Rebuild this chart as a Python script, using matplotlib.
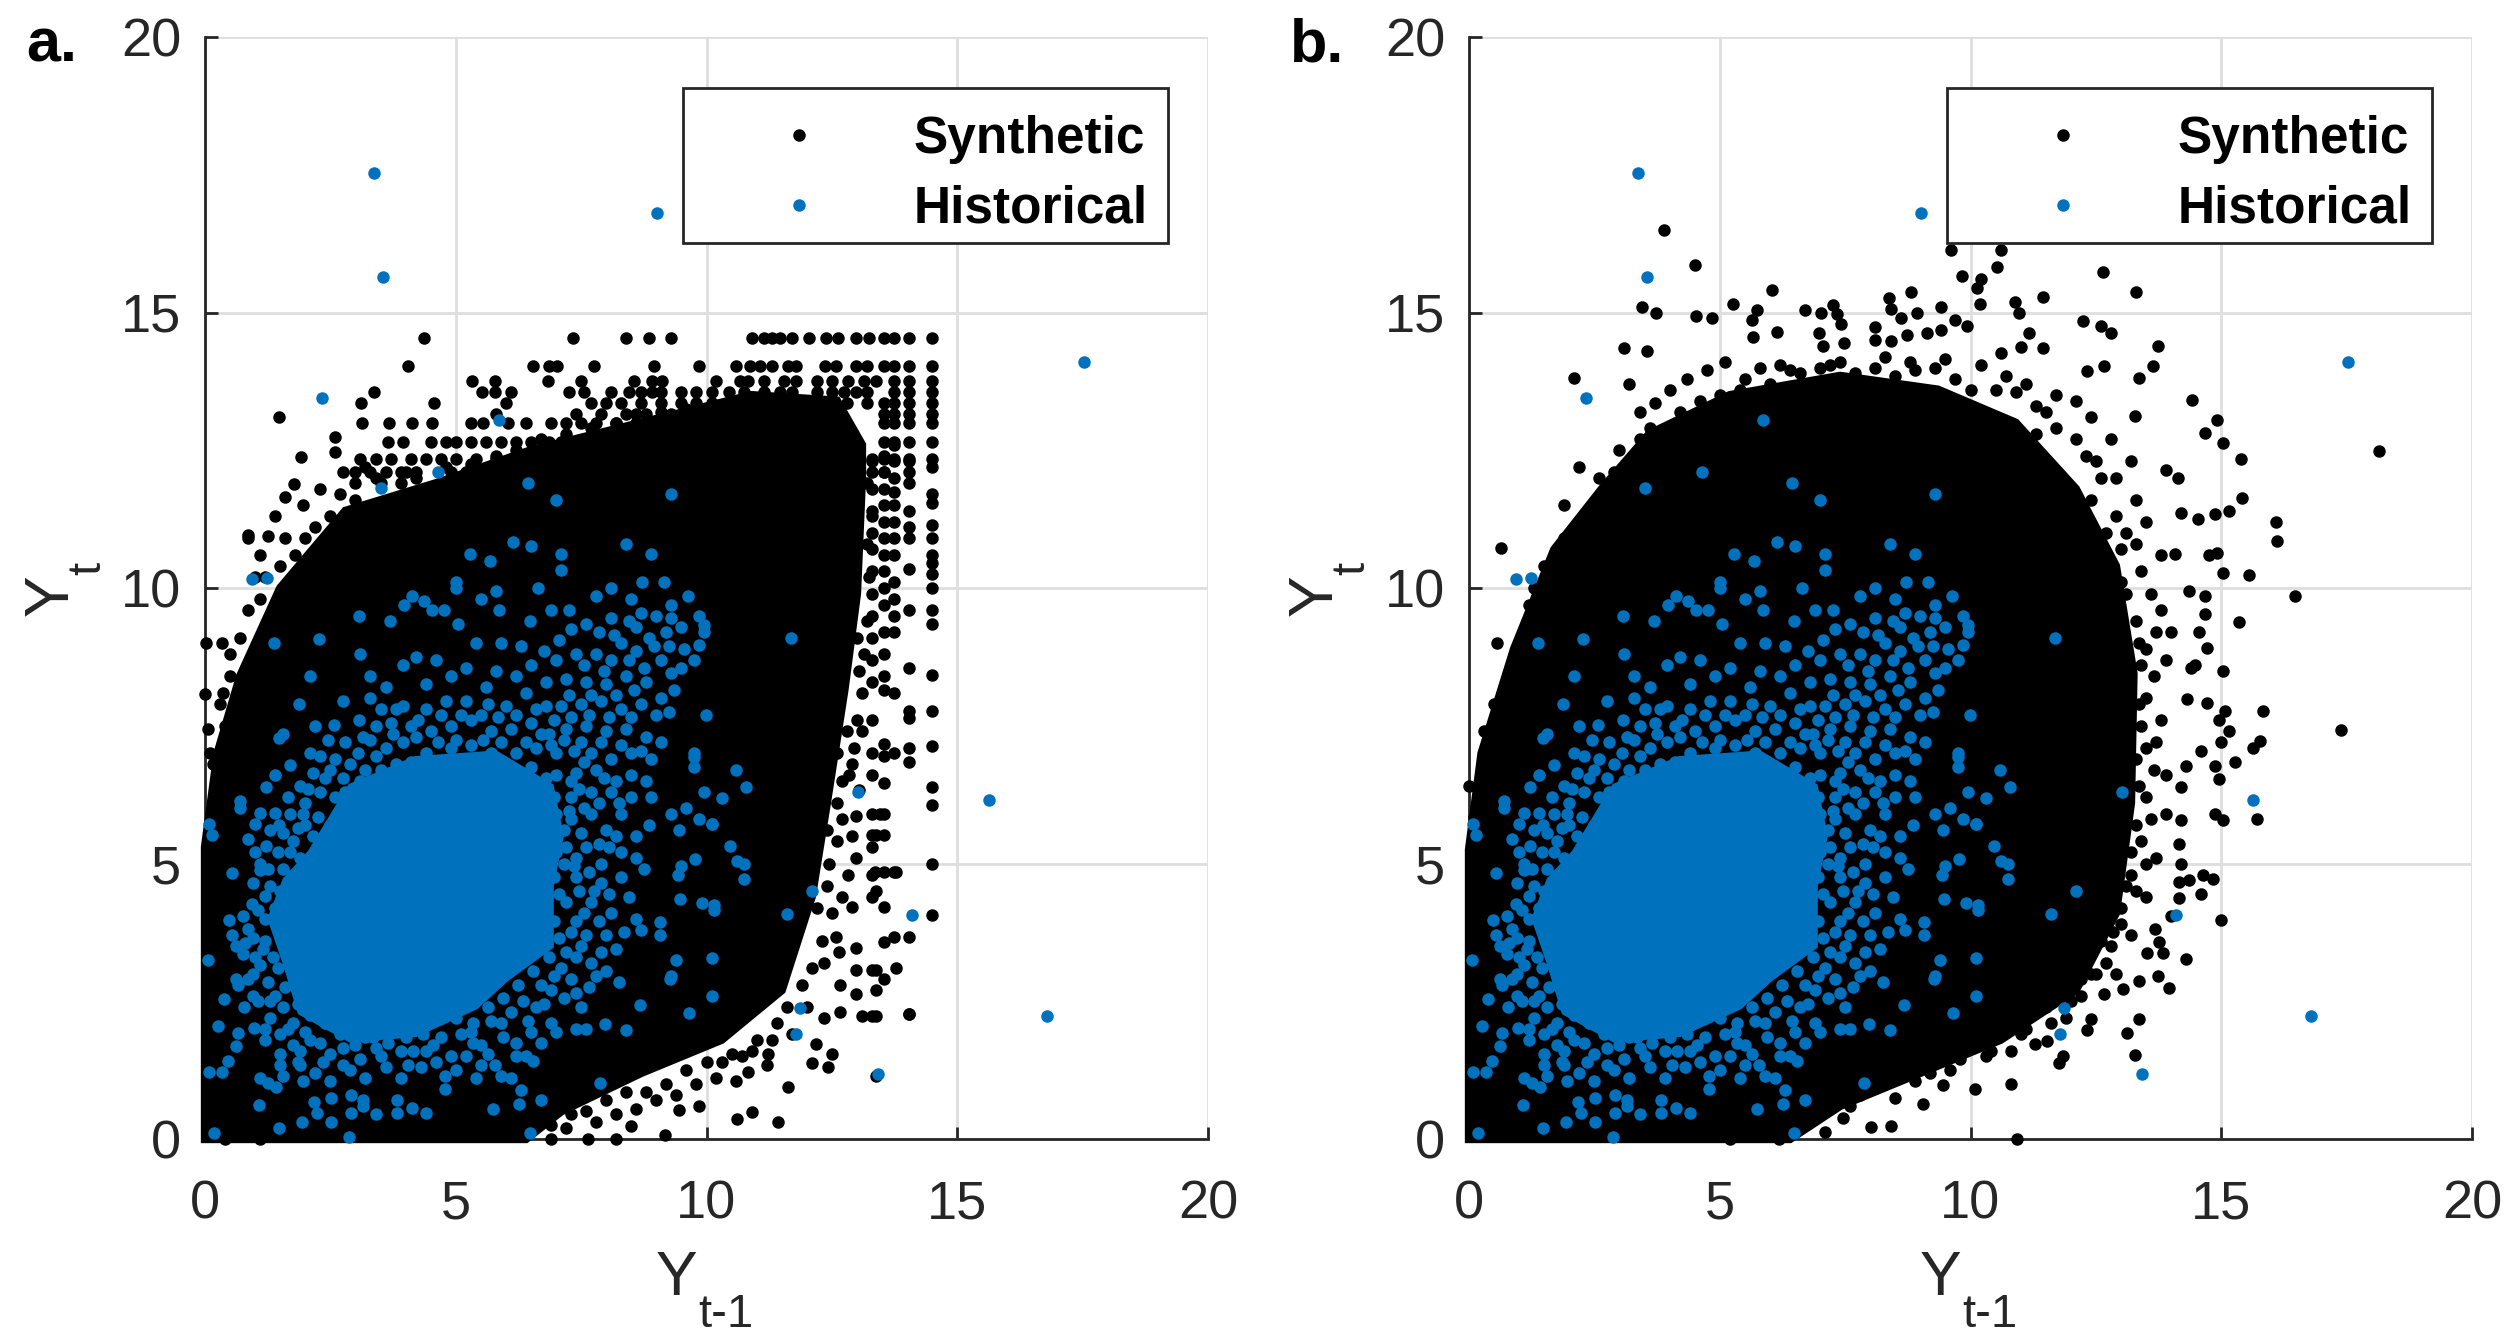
import numpy as np
import matplotlib
matplotlib.use("Agg")
import matplotlib.pyplot as plt
from matplotlib.patches import Rectangle

plt.rcParams["font.family"] = ["Liberation Sans", "DejaVu Sans"]

W, H = 2510, 1342
DARK = "#262626"
BLUE = "#0072BD"

# solid parts of the clouds, outlines
core_a = [(0, 0), (0, 5.3), (0.25, 7.0), (0.7, 8.4), (1.5, 10.0), (2.8, 11.4), (4.6, 11.9), (6.5, 12.5),
          (8.7, 13.0), (10.9, 13.5), (12.6, 13.4), (13.1, 12.6), (13.1, 12.0), (13.0, 9.9), (12.75, 8.15), (12.4, 6.1),
          (12.1, 4.4), (11.5, 2.7), (10.3, 1.8), (8.7, 1.2), (7.1, 0.5), (6.4, 0)]
core_b = [(0, 0), (0, 5.25), (0.25, 7.0), (0.9, 8.9), (1.7, 10.7), (2.65, 11.8), (3.6, 12.8), (5.2, 13.5),
          (7.4, 13.85), (9.35, 13.6), (10.9, 13.0), (12.1, 11.8), (12.9, 10.4), (13.25, 8.45), (13.2, 6.1),
          (12.9, 4.1), (12.1, 2.7), (10.6, 1.8), (9.0, 1.2), (7.4, 0.6), (6.4, 0)]
core_hist = [(2.1, 5.2), (2.9, 6.4), (4.2, 6.9), (5.8, 7.0), (6.9, 6.4), (7.1, 5.5), (6.9, 4.6), (6.9, 3.5),
             (6.0, 2.9), (5.4, 2.4), (4.2, 1.9), (2.9, 1.8), (1.9, 2.3), (1.6, 3.2), (1.3, 4.0), (1.6, 4.7)]

# panel a: the synthetic values sit on rows and columns near the top right
rows_y = [14.53, 14.03, 13.76, 13.55, 13.35, 13.15, 13.0, 12.65, 12.35, 12.1]
rows_x = [
    [4.37, 7.33, 8.4, 8.86, 9.3, 10.9, 11.14, 11.3, 11.46, 11.7, 12.05, 12.39, 12.63, 12.98, 13.25, 13.54, 13.74, 14.03, 14.5],
    [4.04, 6.54, 6.86, 7.02, 7.76, 8.95, 9.86, 10.58, 10.87, 11.06, 11.3, 11.62, 11.78, 12.37, 12.58, 12.98, 13.2, 13.54, 13.74, 14.03, 14.5],
    [5.32, 5.79, 6.83, 7.5, 8.56, 8.91, 9.11, 10.18, 10.66, 10.82, 11.14, 11.54, 11.78, 12.21, 12.5, 12.82, 13.14, 13.38, 13.74, 14.03, 14.5],
    [3.37, 5.52, 5.79, 6.1, 7.25, 7.55, 8.1, 8.45, 8.7, 8.91, 9.1, 9.5, 9.8, 10.1, 10.45, 10.75, 11.14, 11.46, 11.7, 12.2, 12.5, 12.74, 12.98, 13.2, 13.74, 14.03, 14.5],
    [3.11, 4.56, 6.0, 7.7, 8.0, 8.3, 8.7, 9.1, 9.5, 9.8, 10.1, 10.4, 10.8, 11.1, 11.3, 11.7, 12.1, 12.5, 12.8, 13.2, 13.54, 13.74, 14.03, 14.5],
    [5.8, 7.4, 7.9, 8.4, 8.8, 9.3, 9.7, 10.0, 10.3, 10.6, 11.0, 13.54, 13.74, 14.03, 14.5],
    [3.13, 3.67, 4.12, 4.52, 5.3, 5.55, 6.05, 6.4, 6.9, 7.2, 7.5, 7.8, 8.2, 8.6, 9.0, 9.4, 9.8, 13.54, 13.74, 14.03, 14.5],
    [3.65, 3.95, 4.5, 4.8, 5.0, 5.3, 5.6, 5.9, 6.2, 6.5, 6.85, 7.1, 7.3, 7.6, 7.8, 8.3, 8.7, 9.2, 13.54, 13.74, 14.03, 14.5],
    [3.1, 3.4, 3.7, 4.1, 4.4, 4.7, 5.0, 5.4, 5.8, 6.1, 6.4, 6.7, 7.0, 13.3, 13.54, 13.74, 14.03],
    [2.75, 3.0, 3.3, 3.6, 3.9, 4.2, 4.9, 5.2, 5.6, 6.0, 13.3, 13.54],
]
cols_x = [14.5, 14.03, 13.74, 13.54, 13.3]
cols_y = [
    [12.35, 12.2, 11.7, 11.55, 11.15, 10.9, 10.6, 10.45, 10.25, 10.0, 9.6, 9.35, 8.43, 7.76, 7.13, 6.38, 6.06, 5.0, 4.07],
    [12.3, 12.1, 11.9, 11.4, 11.1, 10.9, 10.35, 9.6, 8.55, 7.76, 7.64, 7.1, 6.85, 3.66, 2.26],
    [12.6, 12.3, 12.0, 11.75, 11.5, 11.2, 10.9, 10.6, 10.1, 9.8, 9.5, 9.2, 8.1, 7.0, 4.84, 3.66],
    [12.4, 12.1, 11.8, 11.5, 11.2, 10.9, 10.6, 10.3, 10.0, 9.7, 9.2, 8.8, 8.4, 8.15, 7.17, 6.95, 6.46, 5.9, 5.51, 4.84, 4.21, 3.58, 2.91],
    [12.3, 11.8, 11.4, 11.0, 10.7, 10.3, 9.9, 9.5, 9.1, 8.7, 8.3, 7.6, 7.0, 6.6, 5.9, 5.51, 5.3, 4.8, 4.4, 3.07, 2.23],
]
syn_a_extra = [
    (0.02, 9.0), (0.34, 9.0), (0.5, 8.8), (0.85, 10.97), (1.48, 13.1), (1.92, 12.37), (1.77, 11.88), (1.6, 11.65),
    (1.4, 11.3), (1.95, 11.5), (2.3, 11.8), (2.6, 12.74), (2.6, 12.47), (1.1, 10.6), (1.0, 10.2), (0.85, 9.6),
    (0.85, 10.9), (1.25, 10.95), (1.6, 10.9), (0.7, 9.1), (1.1, 9.8), (2.0, 10.9), (2.5, 11.3), (3.0, 11.6),
    (3.2, 12.2), (3.5, 11.9), (3.9, 11.9), (4.2, 12.0), (4.6, 11.8), (5.1, 12.0), (5.5, 11.9), (6.0, 12.2),
    (6.4, 12.1), (7.0, 12.4), (0.0, 8.07), (0.05, 7.44), (0.1, 7.0), (0.3, 7.9), (0.4, 7.5), (0.15, 6.8),
    (13.0, 9.1), (13.05, 8.5), (13.1, 8.1), (13.0, 7.6), (12.8, 7.4), (12.6, 7.0), (12.9, 6.8), (12.7, 6.5),
    (13.05, 6.34), (13.45, 5.9), (13.38, 5.51), (12.98, 5.87), (12.9, 5.5), (12.98, 5.1), (13.78, 4.84),
    (13.35, 4.84), (12.82, 4.8), (12.4, 4.6), (13.38, 4.5), (12.9, 4.21), (12.7, 4.4), (12.58, 3.66), (12.98, 3.46),
    (12.65, 3.4), (12.98, 3.07), (13.78, 3.11), (13.38, 3.07), (12.66, 2.8), (12.98, 2.64), (13.38, 2.7), (14.03, 2.26),
    (13.38, 2.23), (13.1, 2.23), (12.66, 2.3), (12.34, 2.2), (12.18, 1.73), (12.5, 1.54), (12.1, 1.38), (12.42, 1.31),
    (11.22, 1.54), (13.38, 1.14), (11.62, 0.94), (11.2, 1.35), (10.82, 1.22), (10.58, 1.06), (10.18, 1.1), (9.86, 0.59),
    (10.9, 0.49), (10.61, 0.37), (11.43, 0.31), (9.18, 0.08), (8.19, 0.0), (7.63, 0.0), (8.5, 0.24), (9.46, 0.52),
    (6.9, 0.0), (7.2, 0.2), (7.8, 0.3), (8.2, 0.45), (8.6, 0.55), (9.0, 0.7), (9.4, 0.8), (9.8, 1.0), (10.3, 1.4),
    (10.7, 1.5), (11.0, 1.8), (11.4, 2.1), (11.6, 2.4), (11.9, 2.8), (12.1, 3.1), (12.3, 3.6), (12.2, 4.2), (12.45, 5.0),
    (12.4, 5.6), (12.6, 6.1), (0.1, 0.15), (0.4, 0.0), (0.7, 0.05), (1.1, 0.0),
    (12.6, 5.4), (12.7, 5.8), (12.85, 6.6), (12.95, 7.1), (13.1, 7.4), (13.15, 8.8), (13.2, 9.4), (13.25, 10.2), (13.2, 10.8),
    (13.3, 11.3), (13.2, 11.9), (12.5, 4.1), (12.35, 3.2), (12.0, 2.4), (11.7, 1.9), (11.3, 1.8), (10.9, 1.6), (10.5, 1.55),
    (10.0, 1.4), (9.6, 1.25), (9.2, 1.0), (8.8, 0.85), (8.4, 0.85), (8.0, 0.7), (7.6, 0.5), (7.3, 0.45), (6.9, 0.25),
    (0.9, 8.7), (1.2, 10.2), (1.5, 10.4), (1.8, 10.6), (2.2, 11.1), (2.7, 11.7), (3.0, 11.9), (3.4, 12.0), (4.0, 12.1),
    (4.8, 12.2), (5.3, 12.25), (5.8, 12.4), (6.2, 12.5), (6.7, 12.7), (7.2, 12.8), (7.7, 12.9), (8.2, 13.0), (8.6, 13.15),
    (9.1, 13.2), (9.6, 13.25), (0.35, 8.1), (0.5, 8.4),
]

# panel b: loose points around the cloud
syn_b_extra = [
    (3.88, 16.5), (4.5, 15.86), (3.45, 15.1), (3.73, 15.0), (4.53, 14.94), (4.84, 14.9), (5.27, 15.16), (5.75, 15.04),
    (6.05, 15.4), (5.65, 14.86), (5.67, 14.55), (6.15, 14.65), (6.7, 15.04), (7.02, 15.0), (7.25, 15.13), (7.33, 14.98),
    (7.42, 14.8), (6.98, 14.62), (7.06, 14.39), (7.47, 14.44), (8.09, 14.74), (8.38, 15.27), (8.81, 15.37), (8.41, 15.06),
    (8.94, 15.0), (8.62, 14.9), (9.42, 15.1), (9.69, 14.86), (9.93, 14.76), (9.42, 14.68), (9.13, 14.62), (8.73, 14.6),
    (8.41, 14.48), (8.09, 14.5), (9.61, 16.14), (10.61, 16.14), (10.53, 15.82), (9.83, 15.67), (10.2, 15.6), (10.12, 15.45),
    (10.18, 15.16), (10.89, 15.19), (10.97, 15.0), (11.44, 15.29), (12.64, 15.74), (13.31, 15.37), (12.24, 14.84),
    (12.61, 14.76), (12.8, 14.62), (11.17, 14.62), (11.0, 14.37), (11.44, 14.35), (10.6, 14.27), (13.73, 14.4), (13.63, 14.03),
    (13.36, 13.82), (12.67, 14.03), (12.32, 13.93), (14.41, 13.41), (13.28, 13.12), (14.91, 13.04), (14.68, 12.82),
    (15.04, 12.64), (15.39, 12.35), (18.15, 12.49), (13.89, 12.15), (14.13, 12.0), (15.42, 11.64), (15.16, 11.4),
    (14.88, 11.35), (14.53, 11.26), (14.2, 11.37), (16.1, 11.2), (16.12, 10.86), (14.92, 10.64), (14.75, 10.6), (14.07, 10.62),
    (15.04, 10.27), (15.56, 10.23), (16.47, 9.85), (14.35, 9.95), (14.67, 9.85), (14.68, 9.52), (15.36, 9.39), (14.56, 9.2),
    (14.72, 8.91), (14.48, 8.6), (15.04, 8.5), (14.4, 8.55), (15.83, 7.77), (17.38, 7.42), (14.32, 7.99), (14.72, 7.91),
    (15.07, 7.76), (14.95, 7.6), (15.16, 7.4), (15.78, 7.23), (15.64, 7.09), (15.0, 7.2), (15.28, 6.85), (14.6, 7.05),
    (14.88, 6.77), (14.96, 6.54), (14.3, 6.77), (14.2, 6.38), (14.88, 5.89), (15.04, 5.79), (15.72, 5.81), (14.2, 5.79),
    (14.16, 5.35), (14.2, 5.0), (14.63, 4.8), (14.83, 4.72), (14.6, 4.45), (14.35, 4.7), (14.16, 4.66), (14.16, 4.38),
    (14.99, 3.98), (14.0, 4.05), (13.68, 3.82), (13.76, 3.58), (13.84, 3.38), (14.3, 3.27), (13.52, 3.38), (13.73, 2.95),
    (13.36, 2.87), (13.95, 2.74), (13.04, 2.72), (12.67, 2.64), (13.36, 2.18), (13.12, 1.93), (12.4, 2.17), (12.32, 1.97),
    (13.28, 1.52), (11.76, 1.38), (11.84, 1.5), (11.52, 1.77), (11.28, 1.73), (10.81, 1.0), (10.09, 0.91), (9.45, 0.98),
    (9.05, 0.63), (8.41, 0.24), (8.01, 0.21), (7.45, 0.39), (7.1, 0.12), (10.92, 0.0), (6.18, 0.0), (5.2, 0.0),
    (2.09, 13.82), (3.1, 14.35), (3.55, 14.3), (3.2, 13.7), (3.4, 13.2), (3.7, 13.35), (4.0, 13.6), (4.35, 13.8),
    (4.75, 13.95), (5.1, 14.1), (5.0, 13.5), (5.5, 13.8), (5.8, 14.0), (6.2, 14.05), (6.6, 13.9), (7.0, 14.0), (7.4, 14.1),
    (7.7, 13.9), (8.1, 14.0), (8.5, 13.85), (8.9, 13.95), (9.3, 14.0), (9.7, 13.8), (10.0, 13.6), (10.5, 13.6), (10.9, 13.55),
    (11.3, 13.3), (11.7, 13.5), (12.1, 13.4), (12.4, 13.1), (12.8, 12.7), (13.2, 12.3), (12.9, 12.0), (12.5, 12.3),
    (12.1, 12.7), (11.7, 12.9), (11.3, 12.8), (10.8, 13.0), (13.3, 11.6), (13.5, 11.2), (13.1, 11.0), (13.8, 10.6),
    (13.4, 10.3), (13.0, 10.1), (12.9, 9.7), (13.3, 9.4), (13.8, 9.6), (13.5, 8.9), (13.9, 8.7), (14.0, 9.2),
    (13.5, 8.0), (13.8, 7.6), (13.5, 7.1), (13.9, 6.6), (13.5, 6.2), (13.9, 5.9), (13.4, 5.4), (13.7, 5.1), (13.2, 4.8),
    (13.5, 4.4), (13.0, 4.2), (13.2, 3.7), (12.8, 3.5), (12.9, 3.0), (12.4, 3.0), (12.2, 2.6), (11.9, 2.2), (11.5, 2.4),
    (11.1, 2.0), (10.8, 1.6), (10.3, 1.5), (9.6, 1.25), (8.9, 1.05), (8.5, 0.75), (8.0, 0.9), (7.6, 0.6), (7.0, 0.5),
    (6.5, 0.3), (2.4, 11.4), (1.9, 10.9), (1.9, 11.5), (2.2, 12.2), (2.6, 12.0), (3.0, 12.5), (3.4, 12.7), (1.5, 10.4),
    (1.3, 10.0), (1.2, 9.7), (0.63, 10.72), (0.55, 9.0), (0.95, 8.9), (0.75, 8.3), (1.1, 9.2), (0.5, 7.9), (0.3, 7.4),
    (0.4, 6.9), (0.25, 6.3), (0.0, 6.4), (0.1, 5.85),
    (4.2, 13.2), (4.6, 13.4), (5.4, 13.6), (6.0, 13.7), (6.4, 13.95), (7.2, 14.05), (8.3, 14.2), (8.8, 14.1), (9.5, 14.15),
    (10.2, 14.05), (10.7, 13.85), (11.1, 13.7), (11.5, 13.2), (12.3, 12.4), (12.6, 12.0), (12.9, 11.3), (13.3, 10.8),
    (13.6, 9.9), (13.7, 9.2), (13.65, 8.4), (13.7, 7.2), (13.65, 6.7), (13.6, 5.8), (13.5, 5.0), (13.3, 4.5), (13.0, 3.9),
    (12.7, 3.2), (12.2, 2.9), (11.6, 2.1), (11.0, 1.9), (10.4, 1.6), (9.8, 1.45), (9.2, 1.2), (8.3, 1.0), (7.8, 0.8), (7.3, 0.7),
    (6.8, 0.4), (1.4, 9.9), (1.6, 10.3), (1.9, 10.6), (2.2, 11.0), (2.6, 11.5), (2.9, 12.1), (3.2, 12.3), (3.6, 12.9),
    (13.35, 9.0), (13.4, 8.6), (13.35, 7.9), (13.4, 7.5), (13.3, 6.9), (13.35, 6.4), (13.3, 5.7), (13.2, 5.2), (13.1, 4.6),
    (12.85, 3.75), (12.6, 3.6), (12.5, 3.0), (12.0, 2.5), (13.1, 9.9), (13.0, 10.7), (12.7, 11.0), (12.4, 11.6),
]

# historical points, the same in both panels
hist_pts = [
    (3.37, 17.54), (9.02, 16.8), (3.54, 15.64), (17.53, 14.1), (2.33, 13.45), (5.87, 13.05), (4.64, 12.1), (3.5, 11.82),
    (6.45, 11.9), (7.0, 11.6), (9.29, 11.7), (0.93, 10.17), (1.23, 10.19), (6.15, 10.84), (6.5, 10.76), (5.28, 10.62),
    (5.68, 10.49), (7.09, 10.62), (8.4, 10.8), (8.9, 10.62), (7.09, 10.32), (5.0, 10.1), (5.0, 10.0), (6.64, 10.0),
    (8.72, 10.1), (9.15, 10.1), (5.8, 9.95), (8.5, 9.8), (8.1, 10.0), (7.8, 9.85), (9.63, 9.85), (9.3, 9.7), (4.12, 9.85),
    (3.96, 9.7), (4.36, 9.77), (5.5, 9.8), (4.52, 9.6), (4.76, 9.6), (3.08, 9.5), (3.69, 9.4), (5.05, 9.35), (5.87, 9.6),
    (6.9, 9.6), (7.26, 9.6), (6.48, 9.4), (2.28, 9.07), (1.37, 9.0), (11.68, 9.1), (9.86, 9.5), (9.95, 9.32), (9.95, 9.2),
    (9.86, 8.97), (8.7, 9.55), (9.0, 9.5), (9.3, 9.45), (9.5, 9.3), (9.2, 9.2), (8.85, 9.1), (8.45, 9.4), (8.1, 9.45),
    (7.85, 9.2), (7.6, 9.35), (7.3, 9.25), (7.05, 9.05), (8.3, 9.0), (8.6, 8.85), (9.55, 8.9), (9.75, 8.7), (9.1, 8.7),
    (9.3, 8.45), (8.1, 8.7), (7.8, 8.8), (7.4, 8.8), (7.0, 8.7), (6.75, 8.85), (6.3, 8.95), (5.9, 9.0), (5.4, 9.0),
    (5.2, 8.55), (4.9, 8.4), (4.6, 8.7), (4.2, 8.75), (3.95, 8.6), (3.1, 8.8), (3.3, 8.4), (3.6, 8.2), (2.1, 8.4),
    (4.4, 8.25), (5.6, 8.2), (5.8, 8.5), (6.2, 8.4), (6.5, 8.6), (6.8, 8.3), (7.2, 8.35), (7.6, 8.3), (8.0, 8.25), (8.4, 8.4),
    (8.8, 8.3), (9.1, 8.0), (9.0, 7.7), (8.7, 7.9), (8.3, 7.8), (7.9, 7.95), (7.5, 7.9), (7.1, 7.85), (6.8, 7.85), (6.4, 8.1),
    (6.0, 7.85), (5.65, 7.9), (5.2, 7.95), (4.8, 7.95), (4.4, 7.8), (3.95, 7.85), (3.3, 8.0), (1.88, 7.89), (2.2, 7.5),
    (2.76, 7.95), (1.48, 7.28), (1.55, 7.35), (2.57, 7.52), (3.08, 7.6), (3.4, 7.5), (3.7, 7.55), (4.1, 7.5), (4.5, 7.4),
    (4.9, 7.5), (5.3, 7.6), (5.7, 7.4), (6.1, 7.45), (6.5, 7.55), (6.85, 7.35), (7.2, 7.45), (7.6, 7.5), (8.0, 7.4),
    (8.4, 7.45), (8.8, 7.3), (9.1, 7.2), (9.99, 7.7), (3.6, 7.1), (3.95, 7.2), (4.4, 7.0), (4.9, 7.1), (5.3, 7.15), (5.7, 7.0),
    (6.2, 7.0), (6.6, 7.1), (7.0, 7.0), (7.35, 7.05), (7.7, 7.0), (8.1, 6.9), (8.5, 7.0), (8.9, 6.9), (9.75, 6.93), (9.75, 6.75),
    (2.3, 6.95), (2.5, 6.7), (2.9, 6.8), (3.2, 6.7), (3.5, 6.7), (7.0, 6.6), (7.4, 6.65), (7.8, 6.7), (8.2, 6.5), (8.5, 6.6),
    (8.8, 6.5), (8.9, 6.2), (8.5, 6.2), (8.1, 6.3), (7.7, 6.3), (7.3, 6.2), (1.21, 6.39), (1.4, 6.61), (1.69, 6.79),
    (1.9, 6.4), (2.0, 6.1), (2.3, 6.3), (2.6, 6.2), (2.25, 5.85), (2.0, 5.7), (1.7, 5.9), (1.4, 5.91), (1.09, 5.91), (1.0, 5.71),
    (1.48, 5.7), (1.75, 5.4), (0.69, 6.14), (0.69, 6.0), (0.08, 5.71), (0.13, 5.51), (7.3, 5.8), (7.7, 5.9), (8.0, 5.6),
    (8.3, 5.9), (8.6, 5.5), (8.85, 5.7), (9.3, 5.9), (9.6, 6.0), (9.85, 5.8), (10.1, 5.71), (9.45, 5.6), (10.3, 6.18), (9.95, 6.3),
    (10.79, 6.39), (10.58, 6.69), (9.75, 7.0), (7.2, 5.3), (7.6, 5.3), (7.9, 5.0), (8.3, 5.2), (8.6, 5.1), (8.75, 4.9), (8.3, 4.75),
    (7.9, 4.65), (7.4, 4.75), (7.2, 4.3), (7.7, 4.3), (8.1, 4.1), (7.4, 3.95), (7.6, 3.7), (8.0, 3.7), (8.35, 3.75), (8.7, 3.8),
    (8.6, 4.0), (7.9, 3.4), (7.7, 3.2), (7.5, 3.5), (7.2, 3.4), (7.3, 2.9), (7.65, 2.75), (7.8, 2.95), (7.15, 2.55), (7.5, 2.4),
    (6.9, 2.7), (6.6, 2.4), (6.9, 2.1), (6.5, 1.95), (6.2, 1.75), (5.9, 2.1), (5.5, 1.7), (5.1, 1.9), (4.9, 1.5), (4.4, 1.6),
    (3.9, 1.6), (3.4, 1.65), (3.0, 1.7), (2.5, 1.55), (2.1, 1.8), (1.85, 1.4), (1.5, 1.55), (1.2, 1.8), (1.75, 2.1), (1.55, 2.4),
    (1.3, 2.2), (1.6, 2.75), (1.35, 3.3), (1.6, 3.6), (1.2, 3.6), (1.0, 3.3), (0.85, 3.82), (0.53, 3.7), (0.48, 3.98), (0.61, 3.5),
    (0.75, 3.35), (1.09, 3.15), (1.2, 4.0), (1.2, 4.41), (0.94, 4.27), (1.5, 4.5), (1.55, 4.9), (1.25, 4.9), (1.09, 4.88),
    (1.21, 5.31), (1.7, 5.2), (0.53, 4.82), (0.05, 3.24), (0.61, 2.91), (0.65, 2.8), (0.37, 2.54), (0.77, 2.4), (0.26, 2.05),
    (0.65, 1.93), (0.61, 1.69), (0.45, 1.42), (0.08, 1.22), (0.34, 1.22), (0.97, 2.01), (1.2, 2.0), (1.09, 1.1), (1.25, 1.02),
    (1.41, 0.94), (1.49, 1.34), (1.89, 1.34), (2.2, 1.2), (2.5, 1.05), (2.9, 1.25), (3.2, 1.1), (3.6, 1.3), (3.9, 1.1), (4.3, 1.3),
    (4.79, 0.91), (4.79, 1.14), (5.9, 1.14), (6.1, 1.1), (5.79, 1.34), (5.2, 1.5), (5.5, 1.35), (6.2, 1.5), (6.54, 1.42),
    (0.18, 0.1), (2.87, 0.04), (6.48, 0.1), (1.48, 0.2), (1.93, 0.31), (2.52, 0.31), (2.23, 0.47), (2.17, 0.67), (2.92, 0.47),
    (3.4, 0.45), (3.83, 0.47), (3.83, 0.71), (4.12, 0.57), (4.4, 0.47), (5.75, 0.54), (6.27, 0.63), (6.69, 0.71), (6.3, 0.89),
    (7.87, 1.02), (1.08, 0.61), (2.52, 0.75), (2.92, 0.79), (3.16, 0.71), (3.16, 0.59),
    (13.03, 6.3), (15.64, 6.16), (14.09, 4.07), (16.78, 2.23), (11.86, 2.37), (11.78, 1.9), (13.42, 1.18), (12.1, 4.5), (11.6, 4.09),
    (10.74, 5.0), (10.74, 4.72), (10.6, 5.05), (10.47, 5.31), (10.1, 5.71), (9.78, 5.09), (9.5, 4.95), (9.43, 4.8), (9.47, 4.35),
    (9.91, 4.29), (10.15, 4.15), (10.15, 4.25), (9.08, 3.94), (9.08, 3.7), (9.39, 3.25), (10.1, 3.29), (9.3, 2.95), (9.27, 2.9),
    (10.1, 2.6), (9.66, 2.28), (8.67, 2.43), (8.4, 1.98), (7.98, 2.09), (7.6, 1.99), (7.39, 1.99),
]

# the crowded ring right around the solid blue part
hist_ring = [
    (2.8, 6.3), (3.1, 6.5), (3.4, 6.95), (3.8, 6.8), (4.1, 6.85), (4.5, 6.7), (4.8, 6.85), (5.1, 6.75), (5.5, 6.9), (5.9, 6.85),
    (6.2, 6.7), (6.5, 6.75), (6.8, 6.55), (6.4, 7.2), (5.0, 7.25), (4.2, 7.3), (5.9, 7.2), (6.9, 7.15), (3.3, 7.25), (2.8, 7.2),
    (2.5, 5.7), (2.8, 5.9), (2.15, 5.5), (1.9, 5.1), (2.2, 5.2), (1.75, 4.8), (1.4, 4.2), (1.5, 3.75), (1.75, 3.4), (1.45, 3.1),
    (1.8, 2.95), (2.0, 2.7), (1.85, 2.45), (2.1, 2.25), (2.4, 2.1), (2.7, 1.9), (3.0, 1.95), (3.35, 1.85), (3.7, 1.95), (4.0, 1.85),
    (4.35, 1.9), (4.7, 1.85), (5.0, 2.2), (5.35, 2.1), (5.65, 2.4), (5.95, 2.55), (6.25, 2.8), (6.55, 3.05), (6.85, 3.3), (7.05, 3.65),
    (6.95, 3.95), (7.05, 4.45), (6.95, 4.75), (7.15, 5.0), (7.0, 5.2), (7.15, 5.6), (7.0, 5.9), (6.95, 6.2), (7.3, 6.5), (7.55, 6.0),
    (7.5, 5.55), (7.4, 5.1), (7.65, 4.85), (7.45, 4.5), (7.55, 4.1), (7.3, 3.75), (7.1, 3.1), (6.7, 2.8), (6.35, 2.5), (6.1, 2.3),
    (5.7, 2.15), (5.3, 1.95), (4.55, 1.7), (4.15, 1.6), (3.65, 1.75), (3.2, 1.85), (2.75, 1.65), (2.3, 1.75), (2.0, 1.95), (1.65, 2.0),
    (1.4, 2.6), (1.25, 2.85), (1.15, 3.45), (0.95, 3.65), (1.05, 4.15), (1.3, 4.6), (1.45, 5.2), (1.95, 5.9), (1.65, 6.2), (2.4, 6.55),
    (2.15, 6.65), (2.75, 6.55), (3.05, 7.0), (8.2, 5.5), (8.45, 4.4), (8.2, 3.45), (8.0, 3.05), (8.25, 2.85), (6.4, 1.5), (6.7, 1.75),
    (7.0, 1.95), (1.75, 1.7), (1.55, 1.15), (1.95, 1.05), (2.35, 1.4), (2.75, 1.35), (3.1, 1.45), (3.5, 1.5), (4.05, 1.35), (4.6, 1.4),
    (5.0, 1.25), (5.4, 1.1), (5.65, 1.55), (0.95, 2.6), (0.85, 2.9), (1.0, 5.2), (0.85, 5.45), (1.3, 5.6),
    (8.15, 9.15), (8.45, 8.7), (8.75, 8.55), (9.25, 8.95), (9.5, 8.55), (8.95, 8.95), (8.6, 9.3), (7.95, 8.5), (7.55, 8.6), (7.25, 8.05),
    (8.2, 8.05), (8.55, 8.15), (7.7, 8.05), (9.25, 7.75), (9.35, 8.15), (8.5, 7.65), (8.05, 7.65), (7.65, 7.7), (7.3, 7.65), (6.95, 7.6),
    (6.6, 7.8), (6.2, 7.7), (5.85, 7.65), (5.5, 7.7), (5.1, 7.7), (4.7, 7.7), (4.25, 7.6), (3.8, 7.8), (3.5, 7.8), (3.15, 7.3),
    (3.75, 7.35), (4.65, 7.2), (5.55, 7.25), (6.7, 7.35), (7.15, 7.25), (7.5, 7.2), (7.9, 7.2), (8.3, 7.15), (8.7, 7.05),
    (7.55, 6.85), (7.95, 6.55), (7.45, 6.35), (8.25, 6.1), (7.85, 6.1), (7.25, 5.95), (7.85, 5.35), (8.05, 5.3), (7.35, 4.95),
    (7.75, 4.5), (8.05, 4.45), (7.85, 3.95), (7.4, 3.3), (6.95, 2.95), (7.4, 2.65), (6.75, 2.45), (6.45, 2.15), (5.95, 1.85),
    (5.35, 1.75), (2.8, 2.0), (1.9, 1.6), (1.5, 1.9), (1.3, 2.5), (1.05, 2.5), (0.95, 3.0), (0.8, 3.55), (0.75, 4.05), (0.95, 4.65),
    (1.1, 5.0), (1.55, 5.55), (1.85, 5.65), (2.05, 6.35), (2.6, 6.9), (2.1, 7.0), (2.45, 7.25),
]

panels = [("a.", core_a, 205), ("b.", core_b, 1469)]


def px_x(x):
    return x / W


def px_y(y):
    return 1 - y / H


def lattice_points():
    xs, ys = [], []
    for y, row in zip(rows_y, rows_x):
        xs += row
        ys += [y] * len(row)
    for x, col in zip(cols_x, cols_y):
        xs += [x] * len(col)
        ys += col
    extra = np.array(syn_a_extra)
    return np.r_[xs, extra[:, 0]], np.r_[ys, extra[:, 1]]


fig = plt.figure(figsize=(W / 100, H / 100), dpi=100)
hist = np.array(hist_pts + hist_ring)
syn_b = np.array(syn_b_extra)
syn_pts = [lattice_points(), (syn_b[:, 0], syn_b[:, 1])]

for (label, core, left), (sx, sy) in zip(panels, syn_pts):
    ax = fig.add_axes([px_x(left), px_y(1139), 1003 / W, 1102 / H])
    ax.set_xlim(0, 20)
    ax.set_ylim(0, 20)
    ax.set_xticks([0, 5, 10, 15, 20])
    ax.set_yticks([0, 5, 10, 15, 20])
    ax.grid(True, color="#dedede", linewidth=2)
    ax.set_axisbelow(True)
    ax.spines["top"].set_visible(False)
    ax.spines["right"].set_visible(False)
    for side in ["left", "bottom"]:
        ax.spines[side].set_color(DARK)
        ax.spines[side].set_linewidth(2)
        ax.spines[side].set_zorder(1.5)
    ax.tick_params(direction="in", length=9, width=2, color=DARK, labelcolor=DARK, labelsize=39)
    ax.tick_params(axis="x", pad=29)
    ax.tick_params(axis="y", pad=17)

    c = np.array(core)
    ax.fill(c[:, 0], c[:, 1], color="black", lw=6, zorder=2, clip_on=False)
    ax.plot(sx, sy, ls="none", marker="o", ms=9, mew=0, color="black", zorder=2.1, clip_on=False, label="Synthetic")
    h = np.array(core_hist)
    ax.fill(h[:, 0], h[:, 1], color=BLUE, lw=4, zorder=3)
    ax.plot(hist[:, 0], hist[:, 1], ls="none", marker="o", ms=9, mew=0, color=BLUE, zorder=3.1, clip_on=False, label="Historical")

    # box drawn apart from the legend, the entries sit lower in it than matplotlib puts them
    ax.add_patch(Rectangle((683 / 1003 - 205 / 1003, 1 - (243 - 37) / 1102), 485 / 1003, 155 / 1102,
                           transform=ax.transAxes, facecolor="white", edgecolor=DARK, linewidth=2, zorder=4.9))
    leg = ax.legend(
        loc="upper left",
        bbox_to_anchor=(478.5 / 1003, 1 - 58.5 / 1102),
        borderaxespad=0,
        frameon=False,
        prop={"weight": "bold", "size": 37},
        borderpad=0.38,
        handlelength=3.75,
        handletextpad=0.35,
        labelspacing=0.40,
        numpoints=1,
    )
    leg.set_zorder(5)

    offset = left - 205
    fig.text(px_x(26 + offset), px_y(61), label, fontsize=44, fontweight="bold", color="black", va="baseline", ha="left")
    fig.text(px_x(656 + offset), px_y(1295), "Y", fontsize=45, color=DARK, va="baseline", ha="left")
    fig.text(px_x(698 + offset), px_y(1327), "t-1", fontsize=34, color=DARK, va="baseline", ha="left")
    fig.text(px_x(68 + offset), px_y(616), "Y", fontsize=45, color=DARK, rotation=90, rotation_mode="anchor", va="baseline", ha="left")
    fig.text(px_x(100 + offset), px_y(575), "t", fontsize=34, color=DARK, rotation=90, rotation_mode="anchor", va="baseline", ha="left")

fig.savefig("out.png", dpi=100)
